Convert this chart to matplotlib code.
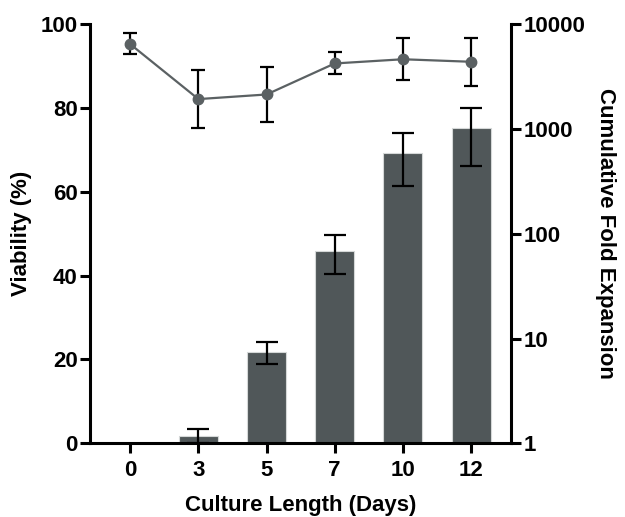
import matplotlib
matplotlib.use("Agg")
import matplotlib.pyplot as plt
import numpy as np

plt.rcParams['font.family'] = ['Liberation Sans', 'DejaVu Sans']
plt.rcParams['font.weight'] = 'bold'

days = ['0', '3', '5', '7', '10', '12']
viability = [95.2, 82.1, 83.2, 90.6, 91.6, 91.0]
viab_hi = [97.8, 89.0, 89.7, 93.3, 96.7, 96.6]
viab_lo = [92.8, 75.2, 76.7, 88.1, 86.6, 85.2]

fold = [1.0, 1.18, 7.43, 68.8, 593, 1014]
fold_hi = [1.0, 1.38, 9.32, 97.2, 908, 1592]
fold_lo = [1.0, 1.0, 5.71, 41.0, 285, 443]

yl_ticks = [0, 20, 40, 60, 80, 100]
yr_ticks = [1, 10, 100, 1000, 10000]

fig = plt.figure(figsize=(6.25, 5.17), dpi=100)
ax = fig.add_axes([0.144, 0.1425, 0.673, 0.811])
ax2 = ax.twinx()

x = np.arange(len(days))
bar_color = '#505759'
line_color = '#5b6163'

# bars on right (log) axis
fold = np.array(fold); fold_hi = np.array(fold_hi); fold_lo = np.array(fold_lo)
mask = x > 0
ax2.bar(x[mask], fold[mask] - 1, bottom=1, width=0.57, color=bar_color,
        edgecolor='#d5d8d8', linewidth=0.8, zorder=2)
ax2.errorbar(x[mask], fold[mask], yerr=[fold[mask] - fold_lo[mask], fold_hi[mask] - fold[mask]],
             fmt='none', ecolor='black', elinewidth=1.6, capsize=8, capthick=1.6, zorder=3)
ax2.set_yscale('log')
ax2.set_ylim(1, 10000)
ax2.set_yticks(yr_ticks)
ax2.set_yticklabels([str(t) for t in yr_ticks])
ax2.minorticks_off()

# line on left axis
viability = np.array(viability)
ax.errorbar(x, viability, yerr=[viability - np.array(viab_lo), np.array(viab_hi) - viability],
            fmt='none', ecolor='black', elinewidth=1.6, capsize=5, capthick=1.6, zorder=3)
ax.plot(x, viability, '-o', color=line_color, markersize=7.5, linewidth=1.6, zorder=4)
ax.set_ylim(0, 100)
ax.set_yticks(yl_ticks)
ax.set_xlim(-0.59, 5.58)
ax.set_xticks(x)
ax.set_xticklabels(days)

ax.set_zorder(ax2.get_zorder() + 1)
ax.patch.set_visible(False)

for a in (ax, ax2):
    a.spines['top'].set_visible(False)
    for s in ['left', 'right', 'bottom']:
        a.spines[s].set_linewidth(2.2)
    a.tick_params(width=2.2, length=7, labelsize=16, pad=2)
ax.tick_params(axis='x', pad=5)
ax.spines['right'].set_visible(False)
ax2.spines['left'].set_visible(False)
ax2.spines['bottom'].set_visible(False)

for lab in ax.get_xticklabels() + ax.get_yticklabels() + ax2.get_yticklabels():
    lab.set_fontweight('bold')

ax.set_xlabel('Culture Length (Days)', fontsize=16, fontweight='bold', labelpad=10)
ax.set_ylabel('Viability (%)', fontsize=16, fontweight='bold', labelpad=6)
ax2.set_ylabel('Cumulative Fold Expansion', fontsize=16, fontweight='bold',
               rotation=270, labelpad=22)

fig.savefig('out.png', dpi=100)
